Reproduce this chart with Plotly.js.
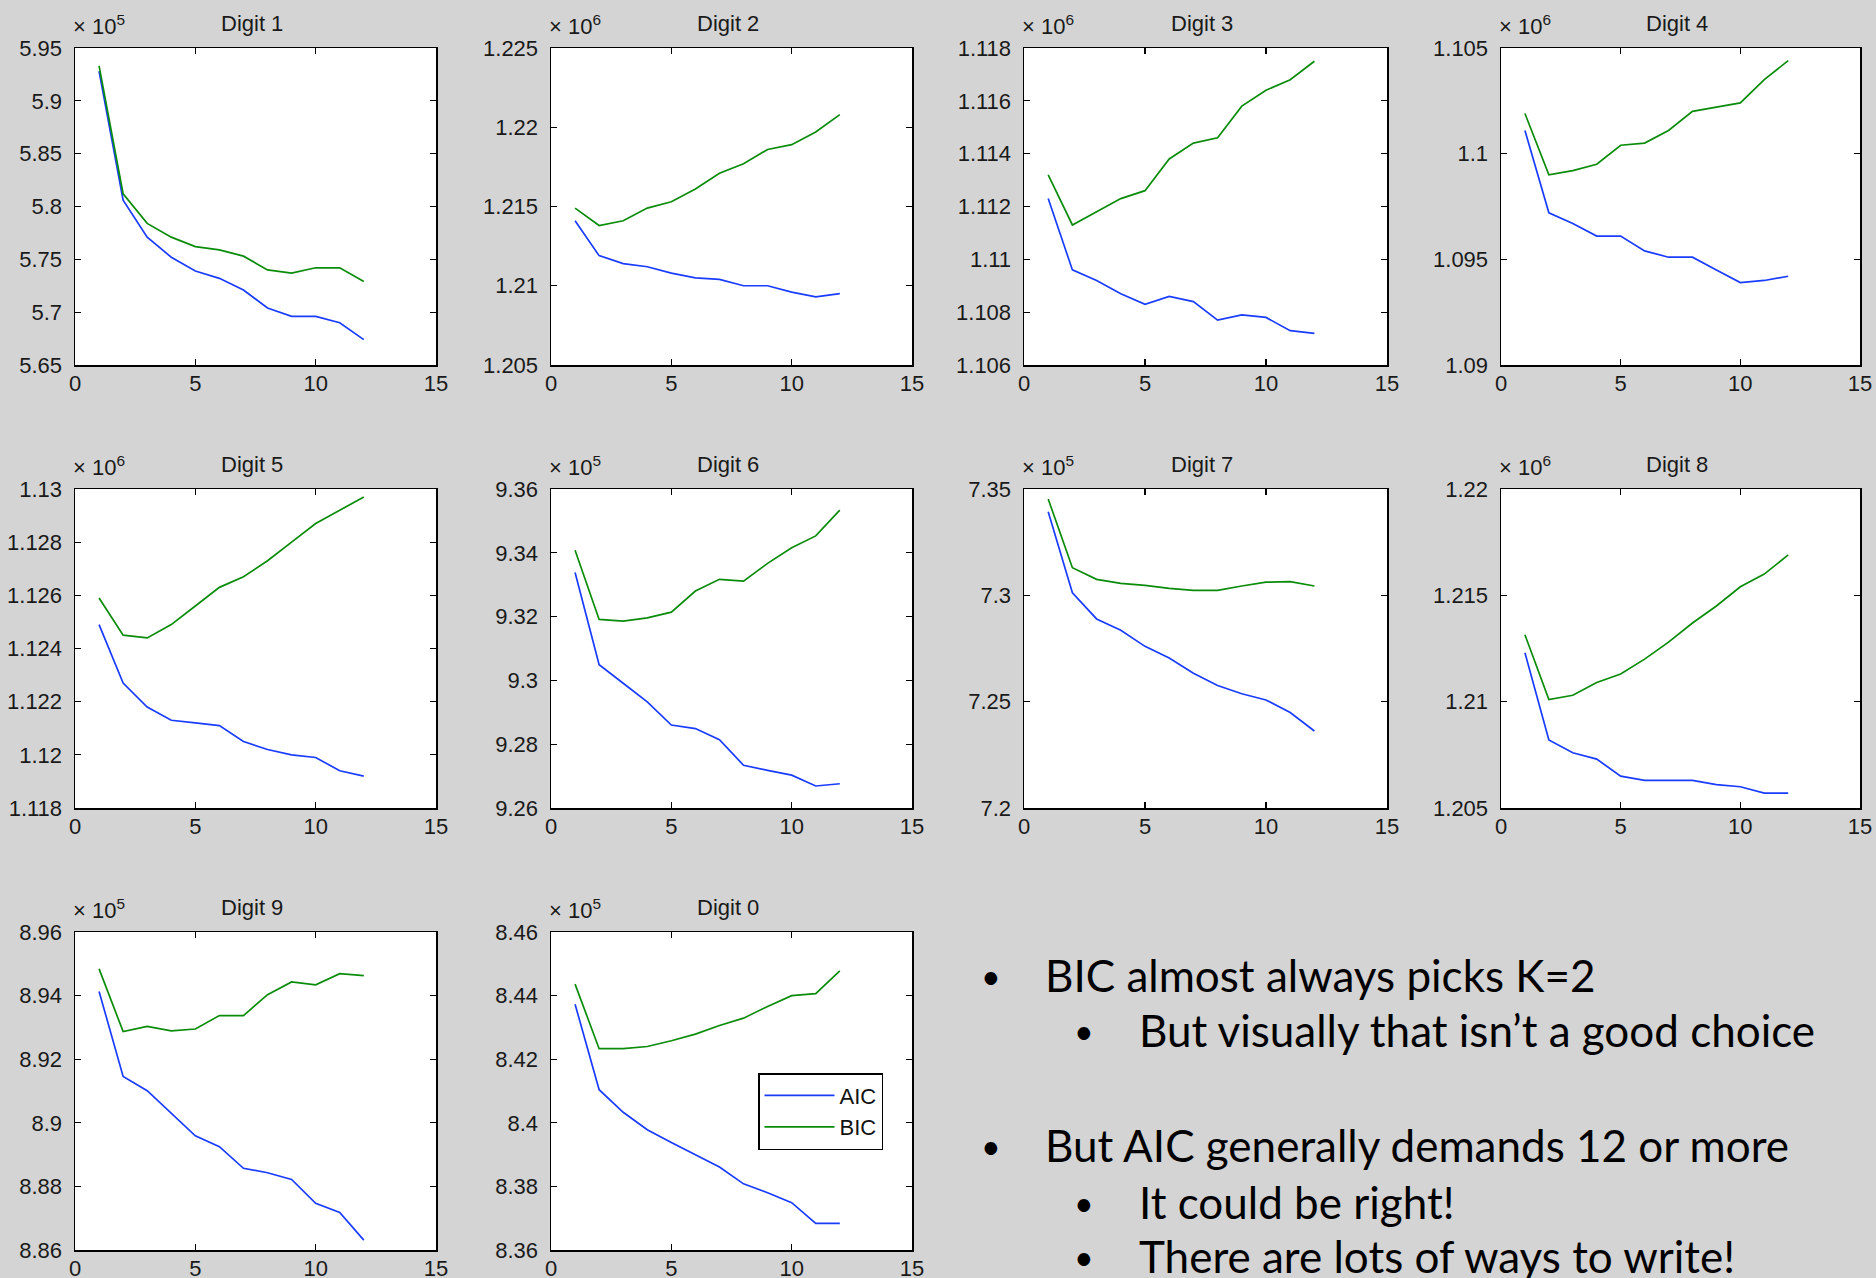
<!DOCTYPE html>
<html><head><meta charset="utf-8">
<script src="https://cdn.plot.ly/plotly-3.0.1.min.js"></script>
<style>html,body{margin:0;padding:0;background:#d4d4d4;overflow:hidden}#chart{width:1876px;height:1278px}</style>
</head><body><div id="chart"></div>
<script>
// ---------------- data ----------------
const K = [1,2,3,4,5,6,7,8,9,10,11,12];
const digitTitles = ['Digit 1','Digit 2','Digit 3','Digit 4','Digit 5','Digit 6','Digit 7','Digit 8','Digit 9','Digit 0'];
const exponents = [5,6,6,6,6,5,5,6,5,5];

const aic1 = [5.928,5.806,5.771,5.752,5.739,5.732,5.721,5.704,5.696,5.696,5.690,5.674];
const bic1 = [5.933,5.812,5.784,5.771,5.762,5.759,5.753,5.740,5.737,5.742,5.742,5.729];
const aic2 = [1.2141,1.2119,1.2114,1.2112,1.2108,1.2105,1.2104,1.2100,1.2100,1.2096,1.2093,1.2095];
const bic2 = [1.2149,1.2138,1.2141,1.2149,1.2153,1.2161,1.2171,1.2177,1.2186,1.2189,1.2197,1.2208];
const aic3 = [1.1123,1.1096,1.1092,1.1087,1.1083,1.1086,1.1084,1.1077,1.1079,1.1078,1.1073,1.1072];
const bic3 = [1.1132,1.1113,1.1118,1.1123,1.1126,1.1138,1.1144,1.1146,1.1158,1.1164,1.1168,1.1175];
const aic4 = [1.1011,1.0972,1.0967,1.0961,1.0961,1.0954,1.0951,1.0951,1.0945,1.0939,1.0940,1.0942];
const bic4 = [1.1019,1.0990,1.0992,1.0995,1.1004,1.1005,1.1011,1.1020,1.1022,1.1024,1.1035,1.1044];
const aic5 = [1.1249,1.1227,1.1218,1.1213,1.1212,1.1211,1.1205,1.1202,1.1200,1.1199,1.1194,1.1192];
const bic5 = [1.1259,1.1245,1.1244,1.1249,1.1256,1.1263,1.1267,1.1273,1.1280,1.1287,1.1292,1.1297];
const aic6 = [9.3338,9.3049,9.2991,9.2933,9.2860,9.2849,9.2814,9.2734,9.2718,9.2703,9.2669,9.2676];
const bic6 = [9.3408,9.3191,9.3186,9.3196,9.3214,9.3280,9.3317,9.3311,9.3367,9.3416,9.3453,9.3534];
const aic7 = [7.3393,7.3012,7.2889,7.2836,7.2760,7.2705,7.2634,7.2576,7.2537,7.2508,7.2449,7.2362];
const bic7 = [7.3453,7.3130,7.3075,7.3056,7.3047,7.3033,7.3023,7.3023,7.3044,7.3062,7.3064,7.3044];
const aic8 = [1.2123,1.2082,1.2076,1.2073,1.2065,1.2063,1.2063,1.2063,1.2061,1.2060,1.2057,1.2057];
const bic8 = [1.21315,1.2101,1.2103,1.2109,1.2113,1.2120,1.2128,1.2137,1.2145,1.2154,1.2160,1.2169];
const aic9 = [8.9413,8.9146,8.9101,8.9030,8.8959,8.8925,8.8857,8.8843,8.8822,8.8747,8.8718,8.8631];
const bic9 = [8.9484,8.9287,8.9303,8.9289,8.9295,8.9337,8.9337,8.9403,8.9443,8.9434,8.9469,8.9463];
const aic0 = [8.4373,8.4104,8.4033,8.3978,8.3938,8.3899,8.3861,8.3808,8.3780,8.3749,8.3684,8.3684];
const bic0 = [8.4436,8.4233,8.4233,8.4240,8.4258,8.4279,8.4306,8.4329,8.4366,8.4400,8.4406,8.4478];

const xTickLabels = ['0','5','10','15'];
const yTicks1 = ['5.65','5.7','5.75','5.8','5.85','5.9','5.95'];
const yTicks2 = ['1.205','1.21','1.215','1.22','1.225'];
const yTicks3 = ['1.106','1.108','1.11','1.112','1.114','1.116','1.118'];
const yTicks4 = ['1.09','1.095','1.1','1.105'];
const yTicks5 = ['1.118','1.12','1.122','1.124','1.126','1.128','1.13'];
const yTicks6 = ['9.26','9.28','9.3','9.32','9.34','9.36'];
const yTicks7 = ['7.2','7.25','7.3','7.35'];
const yTicks8 = ['1.205','1.21','1.215','1.22'];
const yTicks9 = ['8.86','8.88','8.9','8.92','8.94','8.96'];
const yTicks0 = ['8.36','8.38','8.4','8.42','8.44','8.46'];

const seriesNames = ['AIC','BIC'];
const bulletLines = [
  {level:0, text:'BIC almost always picks K=2'},
  {level:1, text:'But visually that isn\u2019t a good choice'},
  {level:0, text:'But AIC generally demands 12 or more'},
  {level:1, text:'It could be right!'},
  {level:1, text:'There are lots of ways to write!'}
];

// ---------------- layout ----------------
const aics = [aic1,aic2,aic3,aic4,aic5,aic6,aic7,aic8,aic9,aic0];
const bics = [bic1,bic2,bic3,bic4,bic5,bic6,bic7,bic8,bic9,bic0];
const yTicks = [yTicks1,yTicks2,yTicks3,yTicks4,yTicks5,yTicks6,yTicks7,yTicks8,yTicks9,yTicks0];

const W = 1876, H = 1278;
const colLeft = [75,551,1024,1501], colRight = [436,912,1387,1860];
const rowTop = [48,489,932], rowBottom = [365,808,1250];
const px = v => v / W, py = v => 1 - v / H;

const sansFont = 'Liberation Sans, Arial, sans-serif';
const tickFont = {family:sansFont, size:22, color:'#1a1a1a'};
const axBase = {
  showline:true, linecolor:'#000', linewidth:1.5, mirror:'ticks',
  ticks:'inside', ticklen:6, tickwidth:1.2, tickcolor:'#000',
  showgrid:false, zeroline:false, tickfont:tickFont, fixedrange:true
};
const blue = 'rgb(25,60,255)', green = 'rgb(10,140,10)';

const traces = [];
const layout = {
  width:W, height:H, margin:{l:0,r:0,t:0,b:0},
  paper_bgcolor:'#d4d4d4', plot_bgcolor:'#ffffff',
  showlegend:true,
  legend:{x:px(758), y:py(1073), xanchor:'left', yanchor:'top',
    bgcolor:'#ffffff', bordercolor:'#000', borderwidth:1.5,
    font:{family:sansFont, size:22, color:'#111'},
    itemwidth:70, tracegroupgap:4},
  annotations:[], shapes:[]
};

for (let i = 0; i < 10; i++) {
  const n = i + 1;
  const r = Math.floor(i / 4), c = i % 4;
  const L = colLeft[c], R = colRight[c], T = rowTop[r], B = rowBottom[r];
  const xs = n === 1 ? '' : String(n);
  const yv = yTicks[i].map(Number);
  layout['xaxis' + xs] = Object.assign({}, axBase, {
    domain:[px(L), px(R)], range:[0,15], anchor:'y' + xs,
    tickvals:xTickLabels.map(Number), ticktext:xTickLabels, ticklabelstandoff:-2
  });
  layout['yaxis' + xs] = Object.assign({}, axBase, {
    domain:[py(B), py(T)], range:[yv[0], yv[yv.length-1]], anchor:'x' + xs,
    tickvals:yv, ticktext:yTicks[i], ticklabelstandoff:7
  });
  const isLegend = (i === 9);
  traces.push({x:K, y:aics[i], type:'scatter', mode:'lines', name:seriesNames[0],
    xaxis:'x' + xs, yaxis:'y' + xs, line:{color:blue, width:1.7}, showlegend:isLegend, hoverinfo:'skip'});
  traces.push({x:K, y:bics[i], type:'scatter', mode:'lines', name:seriesNames[1],
    xaxis:'x' + xs, yaxis:'y' + xs, line:{color:green, width:1.7}, showlegend:isLegend, hoverinfo:'skip'});
  layout.annotations.push({xref:'paper', yref:'paper', x:px((L + R) / 2 - 4), y:py(T - 25),
    xanchor:'center', yanchor:'middle', showarrow:false, text:digitTitles[i],
    font:{family:sansFont, size:22, color:'#1a1a1a'}});
  layout.annotations.push({xref:'paper', yref:'paper', x:px(L - 4), y:py(T - 7),
    xanchor:'left', yanchor:'bottom', showarrow:false,
    text:'\u00d7 10<sup>' + exponents[i] + '</sup>',
    font:{family:sansFont, size:22, color:'#1a1a1a'}});
}

// bullet text on the right
const lineY = [975, 1030, 1145, 1202, 1256];
const bulletX = [991, 1084], textX = [1043, 1137];
const textFont = {family:'Lato, Open Sans, sans-serif', size:44, color:'#000'};
const bulletFont = {family:'Lato, Open Sans, sans-serif', size:34, color:'#000'};
bulletLines.forEach((ln, j) => {
  layout.annotations.push({xref:'paper', yref:'paper', x:px(bulletX[ln.level]), y:py(lineY[j]),
    xanchor:'center', yanchor:'middle', showarrow:false, text:'\u2022', font:bulletFont});
  layout.annotations.push({xref:'paper', yref:'paper', x:px(textX[ln.level]), y:py(lineY[j]),
    xanchor:'left', yanchor:'middle', showarrow:false, text:ln.text, font:textFont});
});

Plotly.newPlot('chart', traces, layout, {staticPlot:true, displayModeBar:false});
</script>
</body></html>
